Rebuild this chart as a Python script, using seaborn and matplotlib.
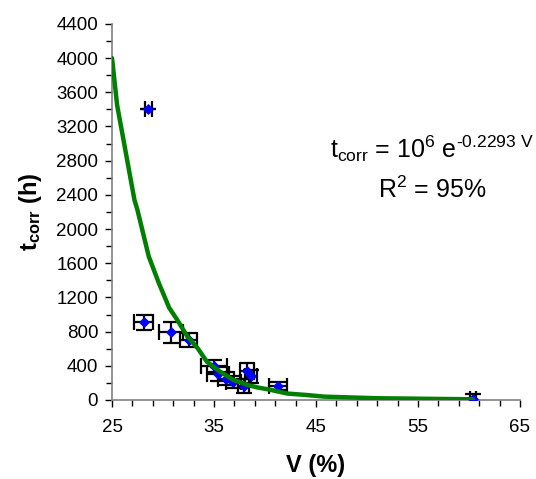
import matplotlib
matplotlib.use("Agg")
import matplotlib.pyplot as plt
import seaborn as sns
import pandas as pd
from matplotlib.ticker import MultipleLocator, FixedLocator

# Measured corrosion times vs. volume fraction with uncertainties
v_pct = [28.55, 28.1, 30.8, 32.5, 35.0, 35.4, 36.2, 36.9, 37.9, 38.25, 38.65, 41.3, 60.4]
t_corr = [3400, 910, 790, 700, 400, 300, 250, 210, 160, 340, 275, 165, 8]
v_err = [0.35, 0.9, 1.2, 0.8, 1.3, 1.1, 0.8, 0.7, 0.5, 0.7, 0.6, 0.9, 0.3]
t_err = [0, 90, 125, 85, 70, 80, 80, 70, 80, 90, 80, 50, 60]

# Exponential trend line values
fit_v = [25.0, 25.5, 27.2, 27.5, 28.6, 29.6, 30.6, 31.4, 32.4, 33.4, 34.3, 35.6,
         36.9, 37.3, 38.3, 39.2, 40.4, 42.2, 44.1, 45.8, 51.0, 60.4]
fit_t = [4000, 3450, 2340, 2220, 1680, 1365, 1080, 936, 741, 605, 448, 331,
         234, 220, 175, 148, 122, 75, 58, 39, 20, 8]

x_ticks = [25, 35, 45, 55, 65]
y_ticks = [0, 400, 800, 1200, 1600, 2000, 2400, 2800, 3200, 3600, 4000, 4400]

sns.set_theme(style="ticks")
plt.rcParams["font.family"] = ["Liberation Sans", "DejaVu Sans"]
plt.rcParams["mathtext.fontset"] = "custom"
plt.rcParams["mathtext.rm"] = "Liberation Sans"
plt.rcParams["mathtext.it"] = "Liberation Sans:italic"
plt.rcParams["mathtext.bf"] = "Liberation Sans:bold"
plt.rcParams["text.color"] = "black"
plt.rcParams["axes.labelcolor"] = "black"
plt.rcParams["xtick.color"] = "black"
plt.rcParams["ytick.color"] = "black"

fig = plt.figure(figsize=(5.36, 4.79), dpi=100)
ax = fig.add_axes([0.209, 0.165, 0.761, 0.785])

pts = pd.DataFrame({"V": v_pct, "t": t_corr})
fit = pd.DataFrame({"V": fit_v, "t": fit_t})

ax.errorbar(v_pct, t_corr, xerr=v_err, yerr=t_err, fmt="none", ecolor="black",
            elinewidth=1.6, capsize=6, capthick=1.6, zorder=2)
sns.scatterplot(data=pts, x="V", y="t", marker="D", s=32, color="#0000FF",
                edgecolor="#0000FF", linewidth=0, ax=ax, zorder=3)
sns.lineplot(data=fit, x="V", y="t", color="#008000", linewidth=3.2, ax=ax,
             sort=False, zorder=4)

ax.set_xlim(25, 65)
ax.set_ylim(0, 4400)
ax.xaxis.set_major_locator(FixedLocator(x_ticks))
ax.xaxis.set_minor_locator(MultipleLocator(2, offset=1))
ax.yaxis.set_major_locator(FixedLocator(y_ticks))
ax.yaxis.set_minor_locator(MultipleLocator(200))
ax.tick_params(axis="both", which="major", direction="out", length=5, width=1,
               labelsize=13.5, pad=5)
ax.tick_params(axis="both", which="minor", direction="out", length=4, width=1)
ax.tick_params(axis="x", which="major", pad=9)

for side in ("top", "right"):
    ax.spines[side].set_visible(False)
for side in ("left", "bottom"):
    ax.spines[side].set_color("#808080")
    ax.spines[side].set_linewidth(1.2)

ax.set_xlabel("V (%)", fontsize=17, fontweight="bold", labelpad=13)
ax.set_ylabel(r"t$_{\mathbf{corr}}$ (h)", fontsize=17, fontweight="bold", labelpad=9)

fig.text(0.616, 1 - 158 / 479,
         r"t$_{\mathrm{corr}}$ = 10$^{6}$ e$^{\mathrm{\text{-}0.2293\ V}}$",
         fontsize=18, ha="left", va="baseline")
fig.text(0.807, 1 - 198 / 479, r"R$^{2}$ = 95%", fontsize=18,
         ha="center", va="baseline")

fig.savefig("out.png", dpi=100)
